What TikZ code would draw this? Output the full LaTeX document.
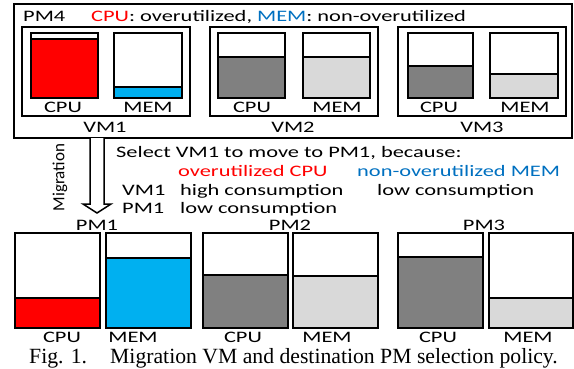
\documentclass[tikz,border=0pt]{standalone}
\usepackage{fontspec}
\setmainfont{Carlito}
\newfontfamily\capfont{Liberation Serif}
\usepackage{graphicx}
\definecolor{cpured}{HTML}{FF0000}
\definecolor{memblue}{HTML}{00B0F0}
\definecolor{txtblue}{HTML}{0070C0}
\definecolor{dgray}{HTML}{808080}
\definecolor{lgray}{HTML}{D9D9D9}
\newcommand\sx[1]{\scalebox{1.4}[1]{#1}}
\newcommand\ubar[6]{%
 \fill[#6] (#1,#5) rectangle (#2,#4);
 \draw[barline] (#1,#5) -- (#2,#5);
 \draw[barline] (#1,#3) rectangle (#2,#4);}
\begin{document}
\begin{tikzpicture}[x=1pt,y=-1pt,
  lbl/.style={inner sep=0pt, anchor=base, font=\fontsize{16}{16}\selectfont},
  lblw/.style={lbl, anchor=base west},
  barline/.style={line width=1.8pt},
  boxline/.style={line width=1.6pt}]
\useasboundingbox (0,0) rectangle (574,368);
% outer PM4 box
\draw[boxline] (14,4) rectangle (572,138);
\node[lblw] (pm4) at (23,21) {\sx{PM4}};
\node[lblw] (legend) at (91,21) {\sx{\textcolor{cpured}{CPU}: overutilized, \textcolor{txtblue}{MEM}: non-overutilized}};
% VM boxes
\draw[boxline] (22,27) rectangle (190,116);
\draw[boxline] (210,27) rectangle (378,116);
\draw[boxline] (398,27) rectangle (566,116);
% VM bars
\ubar{31}{98}{33}{98}{39}{cpured}
\ubar{114}{182}{33}{98}{87}{memblue}
\ubar{218}{285}{33}{98}{57}{dgray}
\ubar{303}{370}{33}{98}{57}{lgray}
\ubar{408}{473}{33}{98}{66}{dgray}
\ubar{490}{558}{33}{98}{74}{lgray}
% VM labels
\node[lbl] (c1) at (63,112) {\sx{CPU}};
\node[lbl] (m1) at (148,112) {\sx{MEM}};
\node[lbl] (c2) at (252,112) {\sx{CPU}};
\node[lbl] (m2) at (337,112) {\sx{MEM}};
\node[lbl] (c3) at (439,112) {\sx{CPU}};
\node[lbl] (m3) at (525,112) {\sx{MEM}};
\node[lbl] (vm1) at (105,132) {\sx{VM1}};
\node[lbl] (vm2) at (293,132) {\sx{VM2}};
\node[lbl] (vm3) at (482,132) {\sx{VM3}};
% migration arrow
\draw[line width=1.5pt, fill=white] (90,138) -- (90,204) -- (83,204) -- (97,213) -- (111,204) -- (104,204) -- (104,138);
\node[inner sep=0pt, rotate=90, font=\fontsize{17}{17}\selectfont] (mig) at (60,177.5) {Migration};
% explanation
\node[lblw] (sel) at (116,157) {\sx{Select VM1 to move to PM1, because:}};
\node[lblw, text=cpured] (ocpu) at (178,176) {\sx{overutilized CPU}};
\node[lblw, text=txtblue] (nmem) at (357,176) {\sx{non-overutilized MEM}};
\node[lblw] (rvm) at (122,195) {\sx{VM1}};
\node[lblw] (rvmh) at (180,195) {\sx{high consumption}};
\node[lblw] (rvml) at (377,195) {\sx{low consumption}};
\node[lblw] (rpm) at (122,213) {\sx{PM1}};
\node[lblw] (rpml) at (180,213) {\sx{low consumption}};
% PM labels
\node[lbl] (pm1) at (97,230) {\sx{PM1}};
\node[lbl] (pm2) at (290,230) {\sx{PM2}};
\node[lbl] (pm3) at (484,230) {\sx{PM3}};
% PM bars
\ubar{15}{100}{233}{328}{298}{cpured}
\ubar{106}{191}{233}{328}{258}{memblue}
\ubar{203}{288}{233}{328}{275}{dgray}
\ubar{293}{378}{233}{328}{276}{lgray}
\ubar{398}{483}{233}{328}{257}{dgray}
\ubar{489}{573}{233}{328}{298}{lgray}
\node[lbl] (pc1) at (62,342) {\sx{CPU}};
\node[lbl] (pm1m) at (133,342) {\sx{MEM}};
\node[lbl] (pc2) at (243,342) {\sx{CPU}};
\node[lbl] (pm2m) at (327,342) {\sx{MEM}};
\node[lbl] (pc3) at (438,342) {\sx{CPU}};
\node[lbl] (pm3m) at (528,342) {\sx{MEM}};
% caption
\node[inner sep=0pt, anchor=base west, font=\capfont\fontsize{21.7}{21.7}\selectfont] (fig) at (29,363) {Fig. 1.};
\node[inner sep=0pt, anchor=base west, font=\capfont\fontsize{21.7}{21.7}\selectfont] (cap) at (110,363) {Migration VM and destination PM selection policy.};
\end{tikzpicture}
\end{document}
